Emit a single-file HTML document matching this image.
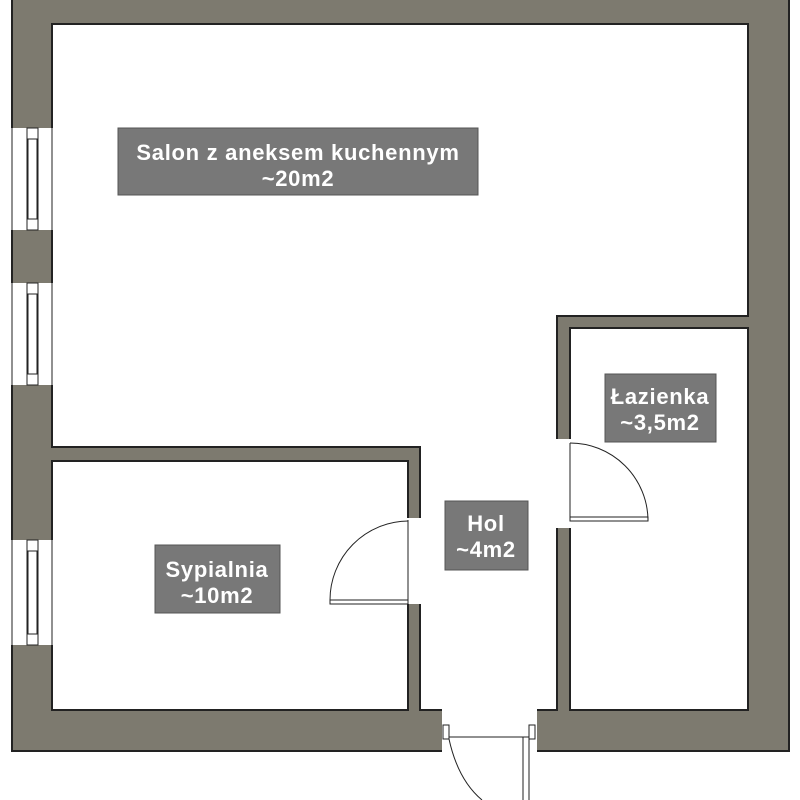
<!DOCTYPE html>
<html><head><meta charset="utf-8"><style>
html,body{margin:0;padding:0;background:#fff;}
svg{display:block;}
text{font-family:"Liberation Sans",sans-serif;font-weight:bold;fill:#fff;font-size:22px;letter-spacing:0.7px;text-anchor:middle;}
</style></head><body>
<svg width="800" height="800" viewBox="0 0 800 800" xmlns="http://www.w3.org/2000/svg">
<rect x="0" y="0" width="800" height="800" fill="#fff"/>
<rect x="12" y="-5" width="777" height="756" fill="#7d7a6f" stroke="#222" stroke-width="2"/>
<g fill="#fff" stroke="#222" stroke-width="2">
<polygon points="52,24 748,24 748,316 557,316 557,710 535,710 535,751 443,751 443,710 420,710 420,447 52,447"/>
<rect x="52" y="461" width="356" height="249"/>
<rect x="570" y="328" width="178" height="382"/>
</g>
<g fill="#fff">
<rect x="406" y="518" width="16" height="86"/>
<rect x="555" y="439" width="17" height="89"/>
<rect x="442" y="709" width="95" height="44"/>
<rect x="10" y="128" width="43" height="102"/>
<rect x="10" y="283" width="43" height="102"/>
<rect x="10" y="540" width="43" height="105"/>
</g>
<g fill="none" stroke="#222" stroke-width="1">
<line x1="12" y1="128" x2="12" y2="230"/><line x1="52" y1="128" x2="52" y2="230"/>
<rect x="27" y="128" width="11" height="102"/><rect x="28" y="139" width="9" height="80"/>
<line x1="12" y1="283" x2="12" y2="385"/><line x1="52" y1="283" x2="52" y2="385"/>
<rect x="27" y="283" width="11" height="102"/><rect x="28" y="294" width="9" height="80"/>
<line x1="12" y1="540" x2="12" y2="645"/><line x1="52" y1="540" x2="52" y2="645"/>
<rect x="27" y="540" width="11" height="105"/><rect x="28" y="551" width="9" height="83"/>
<line x1="408" y1="520" x2="408" y2="600"/>
<path d="M408,521 A79,79 0 0 0 330,600"/>
<rect x="330" y="600" width="78" height="4"/>
<line x1="570" y1="443" x2="570" y2="520"/>
<path d="M570,443 A78,78 0 0 1 648,520"/>
<rect x="570" y="517" width="78" height="4"/>
<rect x="443" y="725" width="6" height="14"/>
<rect x="529" y="725" width="6" height="14"/>
<line x1="449" y1="737" x2="529" y2="737"/>
<path d="M449,739 Q458,780 482,800"/>
<rect x="523" y="737" width="6" height="70"/>
</g>
<g stroke="#555" stroke-width="1" fill="#787878">
<rect x="118" y="128" width="360" height="67"/>
<rect x="605" y="374" width="111" height="68"/>
<rect x="445" y="501" width="83" height="69"/>
<rect x="155" y="545" width="125" height="68"/>
</g>
<text x="298" y="160">Salon z aneksem kuchennym</text>
<text x="298" y="186">~20m2</text>
<text x="660" y="404">Łazienka</text>
<text x="660" y="430">~3,5m2</text>
<text x="486" y="531">Hol</text>
<text x="486" y="557">~4m2</text>
<text x="217" y="577">Sypialnia</text>
<text x="217" y="603">~10m2</text>
</svg>
</body></html>
